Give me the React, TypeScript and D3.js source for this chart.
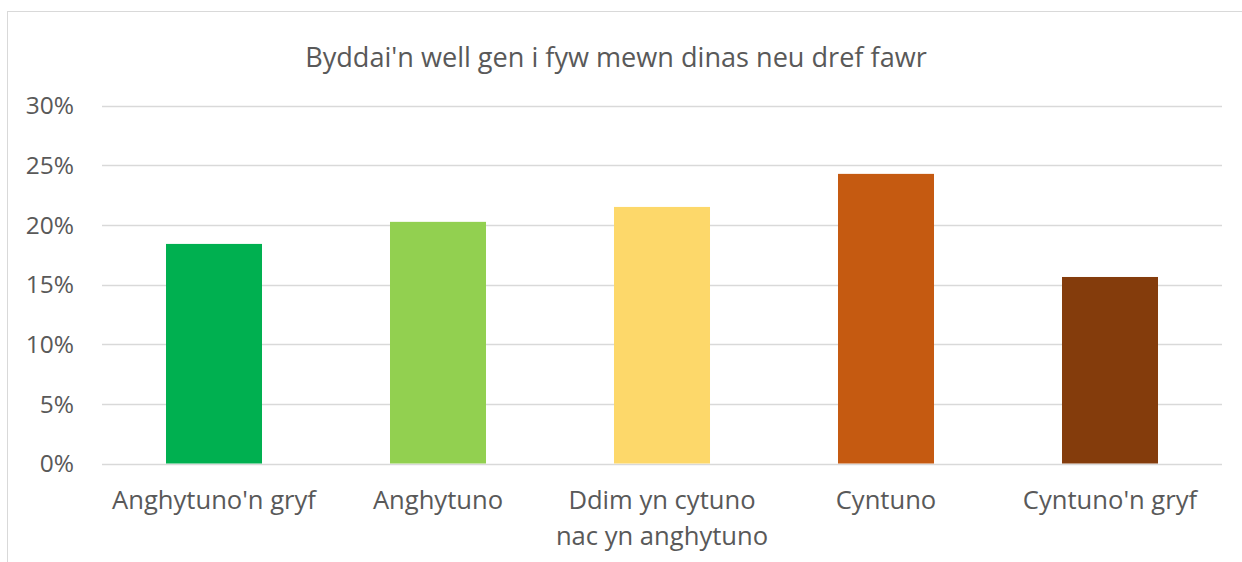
import React from "react";
import * as d3 from "d3";

const title = "Byddai'n well gen i fyw mewn dinas neu dref fawr";
const categories = [
  ["Anghytuno'n gryf"],
  ["Anghytuno"],
  ["Ddim yn cytuno", "nac yn anghytuno"],
  ["Cyntuno"],
  ["Cyntuno'n gryf"],
];
const values = [0.184, 0.2025, 0.215, 0.2427, 0.1563];
const colors = ["#00b050", "#92d050", "#fdd86a", "#c55a11", "#843c0c"];
const yTicks = [0, 0.05, 0.1, 0.15, 0.2, 0.25, 0.3];

const W = 1242;
const H = 562;
const left = 102;
const right = 1222;
const top = 105.5;
const bottom = 463.5;
const font = "'Open Sans', 'Noto Sans', sans-serif";
const textColor = "#595959";

export default function App() {
  const x = d3
    .scaleBand<number>()
    .domain(categories.map((_, i) => i))
    .range([left, right])
    .paddingInner(0.5714)
    .paddingOuter(0.2857);
  const y = d3.scaleLinear().domain([0, 0.3]).range([bottom, top]);
  const fmt = d3.format(".0%");

  return (
    <svg
      width={W}
      height={H}
      style={{ position: "absolute", left: 0, top: 0, background: "#fff" }}
      fontFamily={font}
    >
      <rect x={0} y={0} width={W} height={H} fill="#ffffff" />
      <rect
        x={7.5}
        y={11.5}
        width={W + 10}
        height={H + 10}
        fill="#ffffff"
        stroke="#d9d9d9"
        strokeWidth={1}
      />
      <text
        x={616}
        y={67}
        textAnchor="middle"
        fontSize={27.1}
        fill={textColor}
      >
        {title}
      </text>
      {yTicks.map((t) => (
        <g key={t}>
          <line
            x1={left}
            x2={right}
            y1={Math.round(y(t)) + 0.5}
            y2={Math.round(y(t)) + 0.5}
            stroke="#d9d9d9"
            strokeWidth={1.5}
          />
          <text
            x={74}
            y={y(t)}
            dy="0.36em"
            textAnchor="end"
            fontSize={24.5}
            fill={textColor}
          >
            {fmt(t)}
          </text>
        </g>
      ))}
      {values.map((v, i) => (
        <rect
          key={i}
          x={x(i)}
          y={y(v)}
          width={x.bandwidth()}
          height={y(0) - y(v)}
          fill={colors[i]}
        />
      ))}
      {categories.map((lines, i) => (
        <text
          key={i}
          x={(x(i) as number) + x.bandwidth() / 2}
          y={509}
          textAnchor="middle"
          fontSize={25.6}
          fill={textColor}
        >
          {lines.map((l, j) => (
            <tspan key={j} x={(x(i) as number) + x.bandwidth() / 2} dy={j === 0 ? 0 : 36}>
              {l}
            </tspan>
          ))}
        </text>
      ))}
    </svg>
  );
}
